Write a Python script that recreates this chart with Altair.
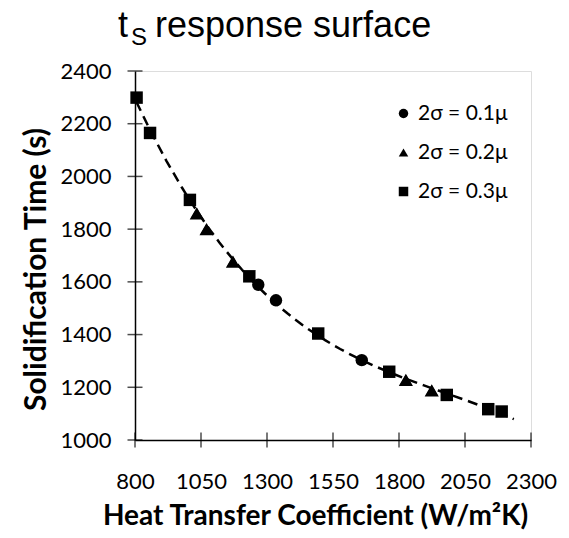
import altair as alt
import pandas as pd

# ---- data ----
series_names = ["2σ = 0.1μ", "2σ = 0.2μ", "2σ = 0.3μ"]

h_01 = [1267, 1334, 1659]
t_01 = [1589, 1530, 1303]

h_02 = [1034, 1071, 1171, 1826, 1924]
t_02 = [1860, 1800, 1677, 1228, 1188]

h_03 = [806, 857, 1008, 1233, 1494, 1763, 1981, 2138, 2189]
t_03 = [2299, 2165, 1911, 1621, 1404, 1259, 1171, 1117, 1108]

x_ticks = [800, 1050, 1300, 1550, 1800, 2050, 2300]
y_ticks = [1000, 1200, 1400, 1600, 1800, 2000, 2200, 2400]

title_main = "t"
title_sub = "S"
title_rest = "response surface"
x_title = "Heat Transfer Coefficient (W/m²K)"
y_title = "Solidification Time (s)"

rows = []
for name, hs, ts in zip(series_names, [h_01, h_02, h_03], [t_01, t_02, t_03]):
    for h, t in zip(hs, ts):
        rows.append({"h": h, "t": t, "series": name})
df = pd.DataFrame(rows)

W, H = 396, 369
LABEL_FONT = "Lato"

xscale = alt.Scale(domain=[800, 2300], nice=False, zero=False)
yscale = alt.Scale(domain=[1000, 2400], nice=False, zero=False)

base = alt.Chart(df)

fit = base.transform_regression(
    "h", "t", method="poly", order=3, extent=[805, 2235]
).mark_line(color="black", strokeWidth=2.5, strokeDash=[10, 6]).encode(
    x=alt.X("h:Q", scale=xscale,
            axis=alt.Axis(values=x_ticks, title=x_title, ticks=False, grid=False,
                          labelOverlap=False, labelFlush=False,
                          labelFont=LABEL_FONT, labelFontSize=22, labelColor="black",
                          labelPadding=31, titleFont=LABEL_FONT, titleFontSize=28,
                          titleFontWeight="bold", titleColor="black", titlePadding=10,
                          titleX=180, titleAnchor="middle",
                          domainColor="black", domainWidth=1.5, format="d")),
    y=alt.Y("t:Q", scale=yscale,
            axis=alt.Axis(values=y_ticks, title=y_title, ticks=False, grid=False,
                          labelOverlap=False, labelFlush=False,
                          labelFont=LABEL_FONT, labelFontSize=22, labelColor="black",
                          labelPadding=24, titleFont=LABEL_FONT, titleFontSize=30,
                          titleFontWeight="bold", titleColor="black", titlePadding=8,
                          titleY=198, titleAnchor="middle",
                          domainColor="black", domainWidth=1.5, format="d")),
)

points = base.mark_point(filled=True, opacity=1, color="black", size=155).encode(
    x=alt.X("h:Q", scale=xscale),
    y=alt.Y("t:Q", scale=yscale),
    shape=alt.Shape("series:N",
                    scale=alt.Scale(domain=series_names,
                                    range=["circle", "triangle-up", "square"]),
                    legend=alt.Legend(title=None, orient="none", legendX=258, legendY=32,
                                      labelFont=LABEL_FONT, labelFontSize=21,
                                      labelColor="black", symbolSize=90,
                                      symbolFillColor="black", symbolStrokeColor="black",
                                      symbolType="circle", rowPadding=17, labelOffset=4,
                                      padding=0)),
)

# slightly larger triangles, as in the reference
tri = base.transform_filter(alt.datum.series == series_names[1]).mark_point(
    filled=True, opacity=1, color="black", size=200, shape="triangle-up").encode(
    x=alt.X("h:Q", scale=xscale),
    y=alt.Y("t:Q", scale=yscale),
)

xt = alt.Chart(pd.DataFrame({"v": x_ticks})).mark_tick(
    orient="vertical", color="black", size=15, thickness=1.5).encode(
    x=alt.X("v:Q", scale=xscale), y=alt.value(H))

yt = alt.Chart(pd.DataFrame({"v": y_ticks})).mark_tick(
    orient="horizontal", color="black", size=15, thickness=1.5).encode(
    y=alt.Y("v:Q", scale=yscale), x=alt.value(0))

t1 = alt.Chart(pd.DataFrame({"s": [title_main]})).mark_text(
    font="Liberation Sans", fontSize=36, align="left", baseline="alphabetic",
    color="black").encode(text="s:N", x=alt.value(-17), y=alt.value(-34))
t2 = alt.Chart(pd.DataFrame({"s": [title_sub]})).mark_text(
    font="Liberation Sans", fontSize=24, align="left", baseline="alphabetic",
    color="black").encode(text="s:N", x=alt.value(-4), y=alt.value(-26))
t3 = alt.Chart(pd.DataFrame({"s": [title_rest]})).mark_text(
    font="Liberation Sans", fontSize=36, align="left", baseline="alphabetic",
    color="black").encode(text="s:N", x=alt.value(20), y=alt.value(-34))

chart = alt.layer(fit, points, tri, xt, yt, t1, t2, t3).properties(
    width=W, height=H,
    autosize=alt.AutoSizeParams(type="none"),
    padding={"left": 135, "top": 71, "right": 38, "bottom": 98},
).configure_view(stroke="black", strokeWidth=1.5).configure(background="white")

chart.save("out.html", embed_options={"renderer": "svg", "actions": False})
